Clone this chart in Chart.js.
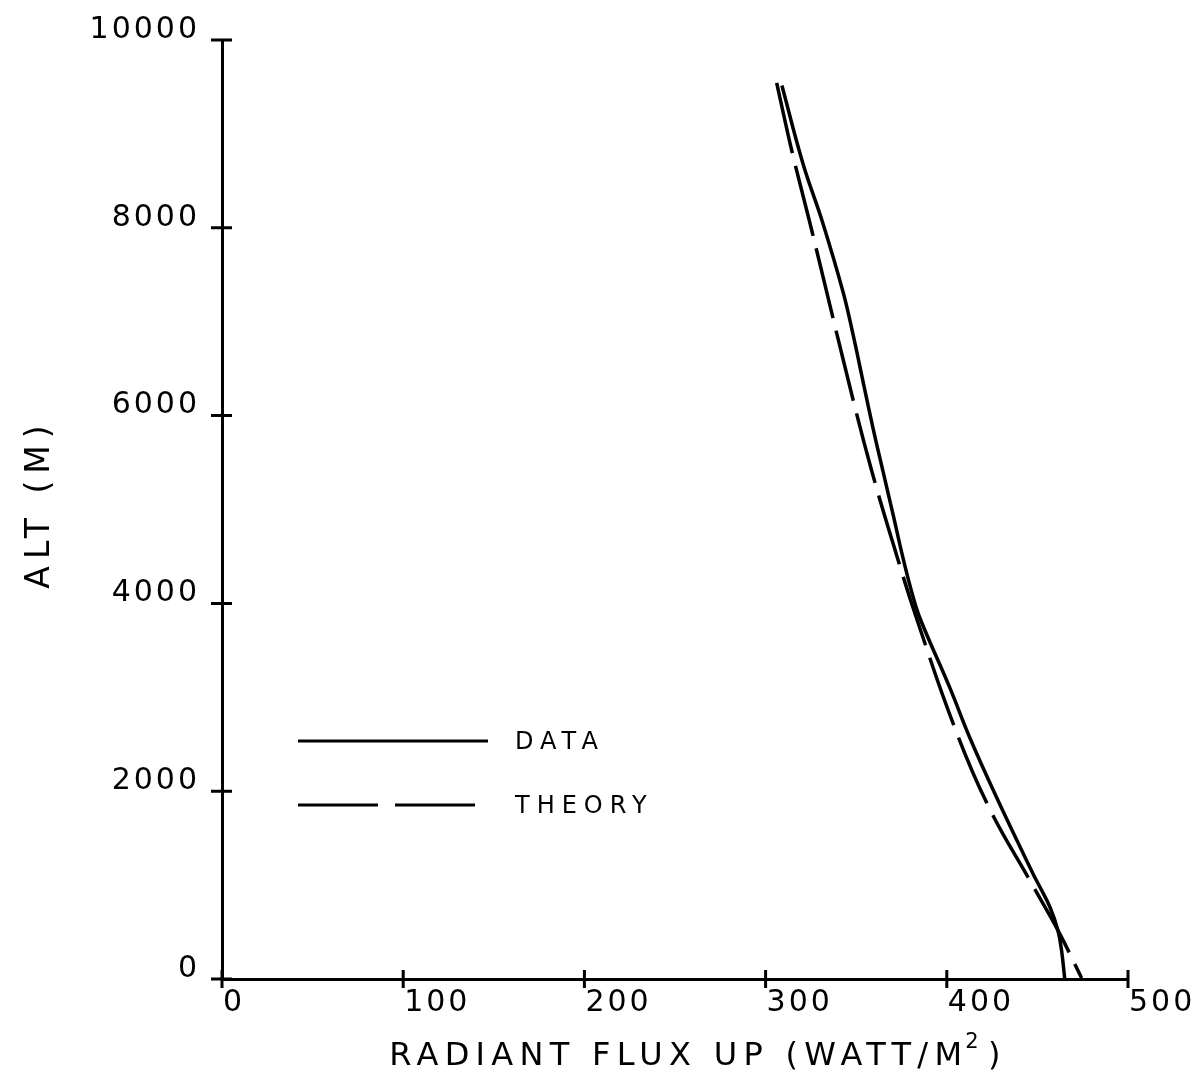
<!DOCTYPE html>
<html>
<head>
  <meta charset="utf-8">
  <title>Radiant Flux Up</title>
  <style>
    html, body { margin: 0; padding: 0; background: #fff; }
    #fluxChart { display: block; }
  </style>
</head>
<body>
  <canvas id="fluxChart" width="1197" height="1083"></canvas>

  <script src="https://cdn.jsdelivr.net/npm/chart.js"></script>
  <script>
    // measured profile (top of flight down to the ground)
    const dataAlt  = [9515, 8685, 8049, 7306, 6851, 6352, 5857, 5398, 4942, 4478, 4125, 3842, 3100, 2569, 1933, 1124, 979, 767, 520, 308, 0];
    const dataFlux = [309.0, 320.6, 331.6, 342.9, 348.4, 353.9, 359.4, 364.9, 370.4, 375.9, 380.6, 385.2, 401.7, 412.7, 427.5, 447.5, 451.4, 456.9, 461.3, 463.3, 465.1];

    // model profile
    const theoryAlt  = [9544, 8826, 8049, 6299, 5416, 4514, 3842, 2675, 1810, 1050, 520, 10];
    const theoryFlux = [306.1, 314.4, 324.5, 346.6, 358.5, 372.3, 383.3, 404.4, 423.7, 445.8, 461.3, 474.4];

    const xTicks = [0, 100, 200, 300, 400, 500];
    const yTicks = [0, 2000, 4000, 6000, 8000, 10000];

    const xTitle = 'RADIANT FLUX UP (WATT/M';
    const xTitleSup = '2';
    const xTitleEnd = ')';
    const yTitle = 'ALT (M)';

    const toPoints = (xs, ys) => xs.map((x, i) => ({ x: x, y: ys[i] }));

    Chart.defaults.font.family = "'DejaVu Sans', sans-serif";
    Chart.defaults.font.size = 30;
    Chart.defaults.color = '#000';

    // ticks that cross the axis line on both sides
    const crossTicks = {
      id: 'crossTicks',
      afterDraw(chart) {
        const ctx = chart.ctx;
        const xs = chart.scales.x, ys = chart.scales.y;
        ctx.save();
        ctx.strokeStyle = '#000';
        ctx.lineWidth = 3;
        ctx.beginPath();
        ys.ticks.forEach(t => {
          const py = ys.getPixelForValue(t.value);
          ctx.moveTo(xs.left - 11, py);
          ctx.lineTo(xs.left + 10, py);
        });
        xs.ticks.forEach(t => {
          const px = xs.getPixelForValue(t.value);
          ctx.moveTo(px, ys.bottom - 9);
          ctx.lineTo(px, ys.bottom + 9);
        });
        ctx.stroke();
        ctx.restore();
      }
    };

    // axis titles and the little legend inside the plot
    const labels = {
      id: 'labels',
      beforeDraw(chart) {
        chart.ctx.letterSpacing = '3px';
      },
      afterDraw(chart) {
        const ctx = chart.ctx;
        const area = chart.chartArea;
        ctx.save();
        ctx.fillStyle = '#000';
        ctx.textBaseline = 'middle';
        ctx.textAlign = 'left';

        // x title, with a raised 2
        const big = "32px 'DejaVu Sans'", small = "21px 'DejaVu Sans'";
        ctx.letterSpacing = '6.3px';
        ctx.font = big;
        const w1 = ctx.measureText(xTitle).width;
        const w3 = ctx.measureText(xTitleEnd).width;
        ctx.font = small;
        const w2 = ctx.measureText(xTitleSup).width;
        let x0 = (area.left + area.right) / 2 + 23 - (w1 + w2 + w3) / 2;
        ctx.font = big;
        ctx.fillText(xTitle, x0, 1057);
        ctx.font = small;
        ctx.fillText(xTitleSup, x0 + w1 - 3, 1043);
        ctx.font = big;
        ctx.fillText(xTitleEnd, x0 + w1 + w2, 1057);

        ctx.textAlign = 'center';
        ctx.translate(40, (area.top + area.bottom) / 2 - 6);
        ctx.rotate(-Math.PI / 2);
        ctx.font = "33px 'DejaVu Sans'";
        ctx.letterSpacing = '7px';
        ctx.fillText(yTitle, 0, 0);
        ctx.restore();

        // legend
        const rows = [741, 805];
        ctx.save();
        ctx.fillStyle = '#000';
        ctx.strokeStyle = '#000';
        ctx.lineWidth = 3;
        ctx.font = "24px 'DejaVu Sans'";
        ctx.letterSpacing = '7px';
        ctx.textAlign = 'left';
        ctx.textBaseline = 'middle';
        chart.data.datasets.forEach((ds, i) => {
          ctx.setLineDash(ds.borderDash && ds.borderDash.length ? [80, 17] : []);
          ctx.beginPath();
          ctx.moveTo(298, rows[i]);
          ctx.lineTo(488, rows[i]);
          ctx.stroke();
          ctx.fillText(ds.label, 515, rows[i] + 2);
        });
        ctx.restore();
      }
    };

    new Chart(document.getElementById('fluxChart'), {
      type: 'scatter',
      data: {
        datasets: [{
          label: 'DATA',
          data: toPoints(dataFlux, dataAlt),
          showLine: true,
          borderColor: '#000',
          borderWidth: 3.5,
          pointRadius: 0,
          tension: 0.4
        }, {
          label: 'THEORY',
          data: toPoints(theoryFlux, theoryAlt),
          showLine: true,
          borderColor: '#000',
          borderWidth: 3.5,
          borderDash: [72, 13],
          pointRadius: 0,
          tension: 0.4
        }]
      },
      options: {
        responsive: false,
        animation: false,
        layout: { padding: { left: 0, right: 69, top: 36, bottom: 0 } },
        plugins: {
          legend: { display: false },
          tooltip: { enabled: false }
        },
        scales: {
          x: {
            type: 'linear',
            min: 0,
            max: 500,
            afterFit: s => { s.height = 104; },
            afterBuildTicks: s => { s.ticks = xTicks.map(v => ({ value: v })); },
            grid: { display: false, drawTicks: false },
            border: { display: true, color: '#000', width: 3 },
            ticks: { align: 'start', padding: 6, labelOffset: 1, callback: v => String(v) }
          },
          y: {
            type: 'linear',
            min: 0,
            max: 10000,
            afterFit: s => { s.width = 222; },
            afterBuildTicks: s => { s.ticks = yTicks.map(v => ({ value: v })); },
            grid: { display: false, drawTicks: false },
            border: { display: true, color: '#000', width: 3 },
            ticks: { padding: 22, labelOffset: -10, callback: v => String(v) }
          }
        }
      },
      plugins: [crossTicks, labels]
    });
  </script>
</body>
</html>
